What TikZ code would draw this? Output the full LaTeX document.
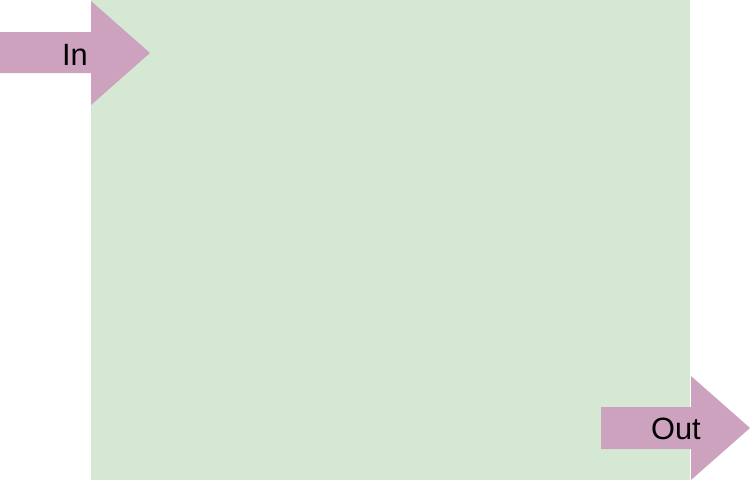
\documentclass[tikz,border=0pt]{standalone}
\usepackage{fontspec}
\setmainfont{Liberation Sans}
\definecolor{boxgreen}{HTML}{D5E8D4}
\definecolor{arrowpink}{HTML}{CDA2BE}
\begin{document}
\begin{tikzpicture}[x=0.02cm, y=-0.02cm,
  arrowfill/.style={fill=arrowpink},
  label/.style={anchor=base, inner sep=0pt, font=\fontsize{17.5}{20}\selectfont}]
\useasboundingbox (0,0) rectangle (750,480);
\fill[boxgreen] (91,0) rectangle (690,480);
\fill[arrowfill] (0,32) -- (91,32) -- (91,1) -- (150,53) -- (91,105) -- (91,73) -- (0,73) -- cycle;
\node[label] (P_in) at (75,65) {In};
\fill[arrowfill] (601,407) -- (691,407) -- (691,376) -- (750,428) -- (691,480) -- (691,449) -- (601,449) -- cycle;
\node[label] (P_out) at (676,439) {Out};
\end{tikzpicture}
\end{document}
